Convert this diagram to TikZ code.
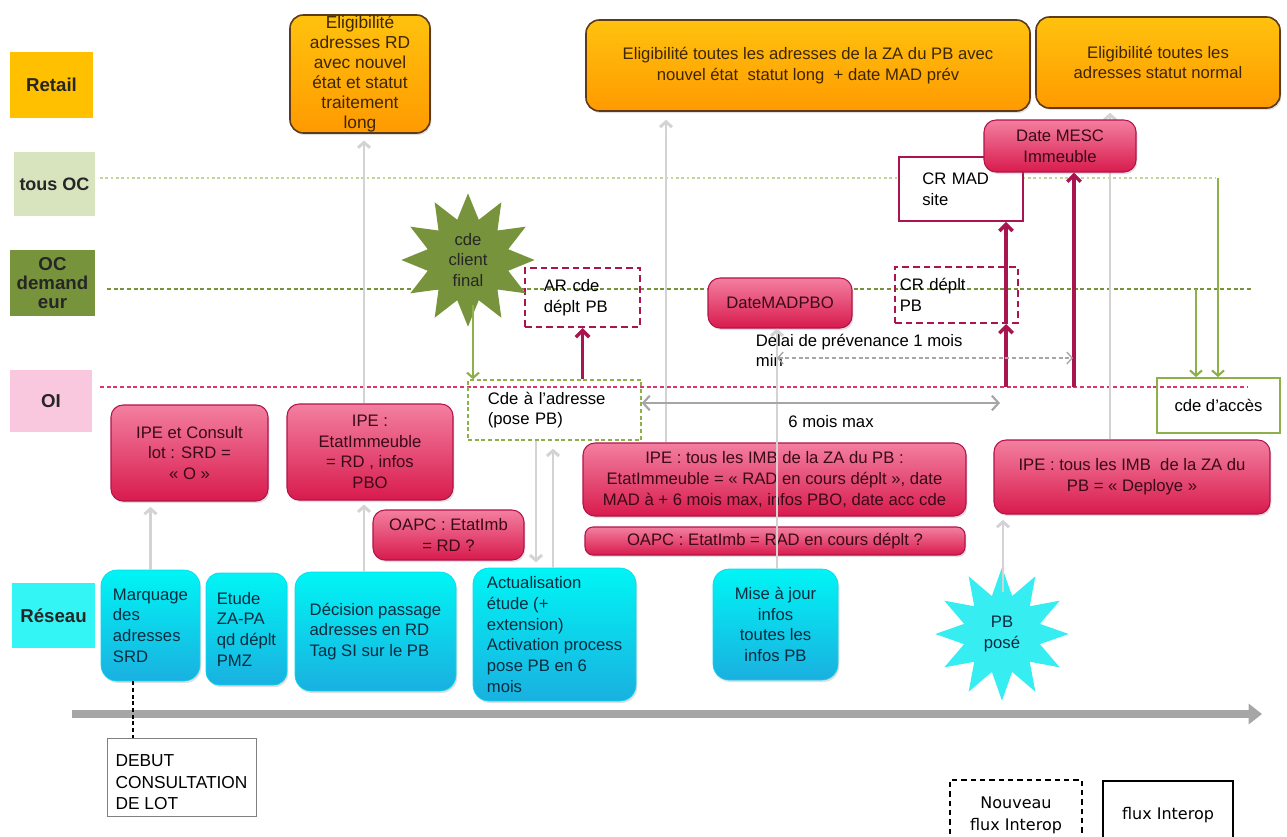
\documentclass[tikz,border=0pt]{standalone}
\usepackage{fontspec}
\setmainfont{Liberation Sans}
\newfontfamily\legfont{DejaVu Sans}
\usetikzlibrary{arrows.meta,shapes.geometric,shadows,calc}
\definecolor{retailc}{HTML}{FFC000}
\definecolor{tousc}{HTML}{D7E4BD}
\definecolor{ocdc}{HTML}{77933C}
\definecolor{oic}{HTML}{F9C8DE}
\definecolor{reseauc}{HTML}{33F5F5}
\definecolor{orgtop}{HTML}{FFC20E}
\definecolor{orgbot}{HTML}{FF9A00}
\definecolor{orgline}{HTML}{5C3A1A}
\definecolor{orgtext}{HTML}{3D2600}
\definecolor{pktop}{HTML}{F37FA0}
\definecolor{pkbot}{HTML}{D81B4D}
\definecolor{pkline}{HTML}{B3124A}
\definecolor{pktext}{HTML}{3A0A18}
\definecolor{cytop}{HTML}{00F5F5}
\definecolor{cybot}{HTML}{1AB0E0}
\definecolor{cytext}{HTML}{0A2C40}
\definecolor{crim}{HTML}{A8154F}
\definecolor{lgray}{HTML}{D3D3D3}
\definecolor{mgray}{HTML}{A6A6A6}
\definecolor{grn}{HTML}{8DB04B}
\definecolor{tousline}{HTML}{C3D69B}
\definecolor{oiline}{HTML}{D9386B}
\definecolor{cyastar}{HTML}{36EEF2}
\tikzset{
  bb/.style args={#1/#2/#3/#4}{at={({(#1+#3)/2},{(#2+#4)/2})},
    minimum width={(#3-#1)*0.75pt}, minimum height={(#4-#2)*0.75pt}},
  base/.style={font=\fontsize{12.5}{15.5}\selectfont, inner sep=2pt, align=center},
  lanebox/.style={base, font=\fontsize{14}{16}\selectfont\bfseries, text=black!85},
  shad/.style={drop shadow={opacity=0.25, shadow xshift=1pt, shadow yshift=-1.5pt}},
  orangebox/.style={base, draw=orgline, line width=1.2pt, rounded corners=10pt,
    top color=orgtop, bottom color=orgbot, text=orgtext, shad},
  pinkbox/.style={base, draw=pkline, line width=0.8pt, rounded corners=9pt,
    top color=pktop, bottom color=pkbot, text=pktext, shad},
  cyanbox/.style={base, draw=cybot!40!cytop, line width=0.5pt, rounded corners=12pt,
    top color=cytop, bottom color=cybot, text=cytext, shad},
  crdash/.style={base, draw=crim, line width=1.5pt, dash pattern=on 5pt off 3pt},
  grdash/.style={base, draw=grn, line width=1pt, dash pattern=on 3pt off 2pt},
  tousl/.style={draw=tousline, line width=0.8pt, dash pattern=on 2pt off 2pt},
  ocl/.style={draw=ocdc, line width=0.8pt, dash pattern=on 3pt off 2pt},
  oil/.style={draw=oiline, line width=0.8pt, dash pattern=on 3pt off 2pt},
  timel/.style={draw=mgray, line width=6pt, -{Triangle[length=10pt,width=15pt]}},
  grayarr/.style={draw=lgray, line width=2.2pt, -{Straight Barb[length=4pt,width=9pt]}},
  crarr/.style={draw=crim, line width=2.6pt, -{Straight Barb[length=5pt,width=10pt]}},
  grnarr/.style={draw=grn, line width=1.6pt, -{Straight Barb[length=4pt,width=9pt]}},
  midarr/.style={draw=mgray, line width=1.6pt,
    {Straight Barb[length=5pt,width=11pt]}-{Straight Barb[length=5pt,width=11pt]}},
  dasharr/.style={draw=mgray, line width=1pt, dash pattern=on 3pt off 2pt,
    {Straight Barb[length=4pt,width=9pt]}-{Straight Barb[length=4pt,width=9pt]}},
  legbox/.style={font=\legfont\fontsize{12}{16.5}\selectfont, align=center, draw=black, line width=1pt, inner sep=2pt}
}
\begin{document}
\begin{tikzpicture}[x=0.75pt,y=-0.75pt]
\useasboundingbox (0,0) rectangle (1287,836);
% lane labels
\node[lanebox, fill=retailc, bb=10/52/93/118] (retail) {Retail};
\node[lanebox, fill=tousc, bb=14/152/95/216, font=\fontsize{13.5}{16}\selectfont\bfseries] (tousoc) {tous OC};
\node[lanebox, fill=ocdc, bb=10/250/95/316, font=\fontsize{14}{14.5}\selectfont\bfseries, inner ysep=0pt] (ocdem) {OC\\demand\\eur};
\node[lanebox, fill=oic, bb=10/370/92/432] (oi) {OI};
\node[lanebox, fill=reseauc, bb=12/583/95/648] (reseau) {Réseau};
% lane lines
\draw[tousl] (100,178) -- (1215,178);
\draw[ocl] (107,289) -- (1252,289);
\draw[oil] (100,387) -- (1247,387);
% timeline
\draw[timel] (72,714) -- (1262,714);
% retail boxes
\node[orangebox, bb=290/15/430/133, font=\fontsize{13}{14.9}\selectfont, inner ysep=0pt] (r1) {Eligibilité\\adresses RD\\avec nouvel\\état et statut\\traitement\\long};
\node[orangebox, bb=586/20/1030/111] (r2) {Eligibilité toutes les adresses de la ZA du PB avec\\nouvel état~ statut long~ + date MAD prév};
\node[orangebox, bb=1036/17/1280/108] (r3) {Eligibilité toutes les\\adresses statut normal};
% pink boxes
\node[pinkbox, bb=111/405/268/501] (p1) {IPE et Consult\\lot : SRD =\\« O »};
\node[pinkbox, bb=287/404/453/500] (p2) {IPE :\\EtatImmeuble\\= RD , infos\\PBO};
\node[pinkbox, bb=373/510/524/560] (oapc1) {OAPC : EtatImb\\= RD ?};
\node[pinkbox, bb=583/443/966/516] (p3) {IPE : tous les IMB de la ZA du PB :\\EtatImmeuble = « RAD en cours déplt », date\\MAD à + 6 mois max, infos PBO, date acc cde};
\node[pinkbox, bb=585/527/965/555, rounded corners=6pt, inner ysep=0pt] (oapc2) {OAPC : EtatImb = RAD en cours déplt ?};
\node[pinkbox, bb=994/440/1270/514] (p4) {IPE : tous les IMB~ de la ZA du\\PB = « Deploye »};
\node[pinkbox, bb=708/278/852/328] (datemad) {DateMADPBO};
% reseau boxes
\node[cyanbox, bb=101/570/200/681, align=left] (b1) {Marquage\\des\\adresses\\SRD};
\node[cyanbox, bb=206/573/287/685, align=left, rounded corners=10pt] (b2) {Etude\\ZA-PA\\qd déplt\\PMZ};
\node[cyanbox, bb=295/572/456/691, align=left] (b3) {Décision passage\\adresses en RD\\Tag SI sur le PB};
\node[cyanbox, bb=473/568/636/701, align=left] (b4) {Actualisation\\étude (+\\extension)\\Activation process\\pose PB en 6\\mois};
\node[cyanbox, bb=713/569/838/680] (b5) {Mise à jour\\infos\\toutes les\\infos PB};
% order / dashed boxes
\node[grdash, bb=468/380/641/440, align=left, text width=100pt] (cde) {Cde à l’adresse\\(pose PB)};
\node[crdash, bb=525/268/640/327, align=left, text width=58pt] (ardepl) {AR cde\\déplt PB};
\node[crdash, bb=895/267/1018/323, align=left, text width=85pt] (crdepl) {CR déplt\\PB};
\node[base, draw=grn, line width=1.3pt, bb=1157/378/1280/433] (cdeacc) {cde d’accès};
% gray connector behind Date MESC
\coordinate (g7) at ($(p4.north)+(-22,0)$);
\draw[grayarr, shorten >=3pt] (g7) -- (g7 |- r3.south);
% CR MAD and Date MESC
\node[base, draw=crim, line width=1.3pt, fill=white, bb=899/157/1023/221, align=left, text width=58pt] (crmad) {CR MAD\\site};
\node[pinkbox, bb=984/120/1136/172] (mesc) {Date MESC\\Immeuble};
% stars
\node[star, star points=12, star point ratio=1.6, minimum size=94pt, inner sep=-2pt, fill=ocdc, base, text=black!85] (star1) at (468,260) {cde\\client\\final};
\node[star, star points=12, star point ratio=1.7, minimum size=100pt, inner sep=0pt, fill=cyastar, base, text=cytext] (star2) at (1002,634) {PB\\posé};
% texts
\node[base, anchor=north west, align=left] (delai) at (753,331) {Délai de prévenance 1 mois\\min};
\node[base] (sixm) at (831,422) {6 mois max};
% debut box and legend
\node[base, draw=black!50, line width=0.6pt, bb=107/738/256/816, align=left, font=\fontsize{13}{16}\selectfont] (debut) {\rule{0pt}{17pt}DEBUT\\CONSULTATION\\DE LOT};
\node[legbox, dash pattern=on 4pt off 3pt, bb=950/780/1082/850] (leg1) {Nouveau\\flux Interop};
\node[legbox, bb=1103/781/1233/850] (leg2) {flux Interop};
% connectors
\coordinate (dj) at ($(b1.south)+(-17.5,0)$);
\draw[black, line width=1pt, dash pattern=on 3pt off 2pt] (dj) -- (dj |- debut.north);
\draw[grayarr, shorten >=4pt] (b1.north) -- (b1.north |- p1.south);
\coordinate (g2) at ($(b3.north)+(-11.5,0)$);
\draw[grayarr, shorten >=3pt] (g2) -- (g2 |- p2.south);
\draw[grayarr, shorten >=5pt] (g2 |- p2.north) -- (g2 |- r1.south);
\coordinate (g3) at ($(cde.south)+(-18.5,0)$);
\coordinate (g4) at ($(cde.south)+(-1.5,0)$);
\draw[grayarr, shorten >=4pt] (g3) -- (g3 |- b4.north);
\draw[grayarr, shorten >=6pt] (g4 |- b4.north) -- (g4);
\coordinate (g5) at ($(p3.north)+(-108.5,0)$);
\draw[grayarr, shorten >=6pt] (g5) -- (g5 |- r2.south);
\coordinate (g6) at ($(b5.north)+(1.5,0)$);
\draw[grayarr] (g6) -- (g6 |- datemad.south);
\coordinate (g8) at ($(star2.center)+(1,-42)$);
\draw[grayarr, shorten >=4pt] (g8) -- (g8 |- p4.south);
% crimson arrows
\draw[crarr] (ardepl.south |- cde.north) -- (ardepl.south);
\coordinate (oiR) at (1006,387);
\coordinate (oiR2) at (1074,387);
\draw[crarr] (oiR) -- (oiR |- crdepl.south);
\draw[crarr] (oiR |- crdepl.south) -- (oiR |- crmad.south);
\draw[crarr] (oiR2) -- (oiR2 |- mesc.south);
% green arrows
\coordinate (s1) at ($(star1.center)+(5,45)$);
\draw[grnarr] (s1) -- (s1 |- cde.north);
\coordinate (ocR) at (1196,289);
\coordinate (tR) at (1218,178);
\draw[grnarr] (ocR) -- (ocR |- cdeacc.north);
\draw[grnarr] (tR) -- (tR |- cdeacc.north);
% duration arrows
\coordinate (six) at (1000,403);
\draw[midarr] (cde.east |- six) -- (six);
\coordinate (d1) at (777,358);
\coordinate (d2) at (1073,358);
\draw[dasharr] (d1) -- (d2);
\end{tikzpicture}
\end{document}
